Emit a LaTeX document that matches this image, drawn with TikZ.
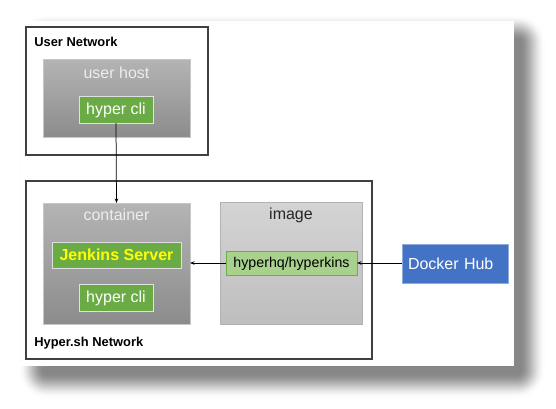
\documentclass[tikz,border=0pt]{standalone}
\usepackage{fontspec}
\setmainfont{Liberation Sans}
\usetikzlibrary{arrows.meta}
\definecolor{netline}{HTML}{404040}
\definecolor{hostTop}{HTML}{B4B4B4}
\definecolor{hostBot}{HTML}{8C8C8C}
\definecolor{imgTop}{HTML}{D4D4D4}
\definecolor{imgBot}{HTML}{BEBEBE}
\definecolor{cliGreen}{HTML}{6AAB45}
\definecolor{hkFill}{HTML}{A9D18E}
\definecolor{hkLine}{HTML}{70AD47}
\definecolor{dockBlue}{HTML}{4472C4}
\definecolor{dockLine}{HTML}{8FAADC}
\definecolor{jenkYellow}{HTML}{FFFF00}
\begin{document}
\begin{tikzpicture}[x=1pt,y=-1pt,
  every node/.style={inner sep=0pt, outer sep=0pt},
  card/.style={fill=white, anchor=north west},
  netbox/.style={draw=netline, line width=1.1pt, fill=white, anchor=north west},
  hostbox/.style={draw=black!22, line width=0.6pt, top color=hostTop, bottom color=hostBot, anchor=north west},
  imgbox/.style={draw=black!30, line width=0.6pt, top color=imgTop, bottom color=imgBot, anchor=north west},
  greenbox/.style={draw=white!88!black, line width=0.8pt, fill=cliGreen, text=white, anchor=north west,
    font=\fontsize{16}{19}\selectfont, text height=11pt, text depth=1.4pt},
  hkbox/.style={draw=hkLine, line width=0.8pt, fill=hkFill, text=black, anchor=north west,
    font=\fontsize{14.2}{17}\selectfont, text height=10.5pt, text depth=1.9pt},
  dockbox/.style={draw=dockLine, line width=0.6pt, fill=dockBlue, text=white, anchor=north west,
    font=\fontsize{16}{19}\selectfont, text height=12pt, text depth=1pt, inner xsep=6pt, text width=94pt, align=left},
  boxtitle/.style={anchor=base, font=\fontsize{16}{19}\selectfont},
  nettitle/.style={anchor=base west, font=\fontsize{12.9}{15}\selectfont\bfseries, text=black},
  flow/.style={draw=black, line width=0.75pt, -{Stealth[length=4.5pt,width=3.5pt]}}
]
\useasboundingbox (0,0) rectangle (556,408);
\fill[white] (0,0) rectangle (556,408);

% soft drop shadow of the card: opaque rings, outermost first
\foreach \e in {26,...,0}{
  \pgfmathsetmacro\u{\e/26}
  \pgfmathsetmacro\p{47*(1-\u*\u*(3-2*\u))}
  \pgfmathsetmacro\rr{\e+3}
  \fill[black!\p!white, rounded corners=\rr pt] (44-\e,40-\e) rectangle (520+\e,373+\e);
}

% card
\node[card, minimum width=493pt, minimum height=345pt] (card) at (21,21) {};

% User Network
\node[netbox, minimum width=182pt, minimum height=128pt] (usernet) at (26,27) {};
\node[nettitle] (usernetlabel) at (34.3,46.7) {User Network};
\node[hostbox, minimum width=147pt, minimum height=78pt] (userhost) at (43,59) {};
\node[boxtitle, text=white!93!black] (userhostlabel) at (116.5,78) {user host};
\node[greenbox, minimum width=74pt, minimum height=27pt] (cli1) at (79,96) {hyper cli};

% Hyper.sh Network
\node[netbox, minimum width=346pt, minimum height=178pt] (hypernet) at (26,181) {};
\node[nettitle] (hypernetlabel) at (34.3,346.7) {Hyper.sh Network};
\node[hostbox, minimum width=147pt, minimum height=121pt] (container) at (43,203) {};
\node[boxtitle, text=white!93!black] (containerlabel) at (116.5,220.7) {container};
\node[greenbox, minimum width=129pt, minimum height=26pt, text=jenkYellow, font=\fontsize{16}{19}\selectfont\bfseries, text height=11.5pt, text depth=1.5pt] (jenkins) at (52,242) {Jenkins Server};
\node[greenbox, minimum width=74pt, minimum height=27pt] (cli2) at (79,284) {hyper cli};

\node[imgbox, minimum width=142pt, minimum height=122pt] (image) at (220,202) {};
\node[boxtitle, text=black!85] (imagelabel) at (291,219.3) {image};
\node[hkbox, minimum width=131pt, minimum height=24pt] (hk) at (226,251) {hyperhq/hyperkins};

% Docker Hub
\node[dockbox, minimum width=106pt, minimum height=39pt] (docker) at (402,244) {Docker Hub};

% connectors
\draw[flow] (cli1.south) -- (container.north);
\draw[flow] (hk.west) -- (container.east |- hk.west);
\draw[flow] (docker.west |- hk.east) -- (hk.east);
\end{tikzpicture}
\end{document}
